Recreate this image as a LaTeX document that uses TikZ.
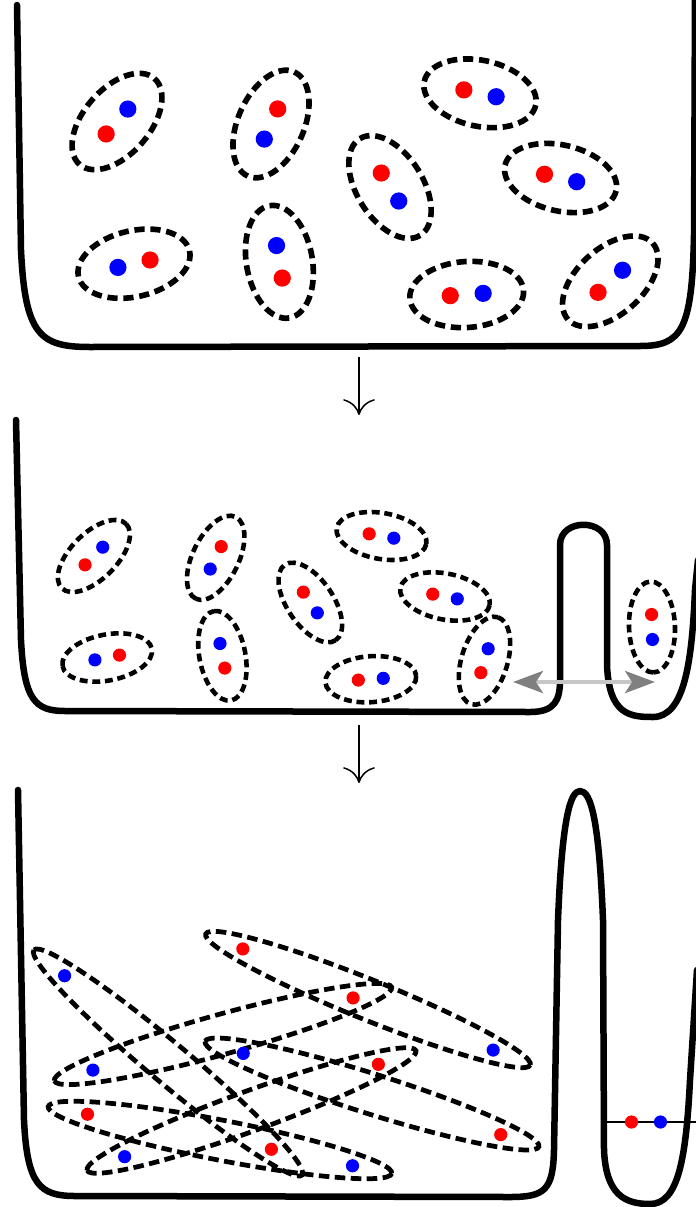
\documentclass[tikz,border=0pt]{standalone}
\usetikzlibrary{arrows.meta}
\tikzset{
  wall/.style={line width=3.7pt, line join=round, line cap=round},
  pairbig/.style={line width=3.2pt, dash pattern=on 5.8pt off 3.3pt},
  pairsmall/.style={line width=2.6pt, dash pattern=on 4.5pt off 2.7pt},
  pairlong/.style={line width=2.7pt, dash pattern=on 6pt off 3.1pt},
  reddot/.style={circle, fill=red, inner sep=0pt, minimum size=#1},
  bluedot/.style={circle, fill=blue, inner sep=0pt, minimum size=#1},
  flow/.style={line width=0.85pt, -{Computer Modern Rightarrow[length=9pt,width=18pt]}},
  hop/.style={draw=gray!45, line width=2.7pt,
    {Stealth[length=17pt,width=12.5pt,inset=4pt,color=gray]}-{Stealth[length=17pt,width=12.5pt,inset=4pt,color=gray]}},
  level/.style={line width=0.75pt}
}
\begin{document}
\begin{tikzpicture}[x=0.02cm, y=0.02cm, yscale=-1]
  \useasboundingbox (0,0) rectangle (696,1207);
  % first box: bound pairs
  \draw[wall] (17,5) -- (21,250) .. controls (25,335) and (40,347) .. (90,347)
    -- (640,346) .. controls (682,346) and (692,330) .. (694,235) -- (695,-5);
  \foreach \cx/\cy/\ang [count=\i] in {117/121.5/-49, 271/124/114, 480/93.3/12,
      390/187/58, 560.6/178/13, 134/263.7/167, 279.4/261.8/-100,
      466.7/294.5/-4, 610.3/281.3/-42}{
    \begin{scope}[shift={(\cx,\cy)}, rotate=\ang]
      \draw[pairbig] (0,0) ellipse (57 and 33);
      \node[reddot=9.8pt] (a\i r) at (-16.5,0) {};
      \node[bluedot=9.8pt] (a\i b) at (16.5,0) {};
    \end{scope}
  }
  \coordinate (down1s) at (359,357);
  \coordinate (down1e) at (359,415);
  \draw[flow] (down1s) -- (down1e);
  % second box: a side well
  \draw[wall] (16,420) -- (21,640) .. controls (24,700) and (35,711) .. (65,711)
    -- (530,712) .. controls (555,712) and (560,700) .. (560,680) -- (560,545)
    .. controls (560,518) and (607,518) .. (607,545) -- (607,665)
    .. controls (609,715) and (630,717) .. (653,717)
    .. controls (685,717) and (692,660) .. (695,590) -- (698,560);
  \foreach \cx/\cy/\ang [count=\i] in {93.9/556/-45, 215.7/557.8/116, 381.5/536/10,
      310.3/602.5/56, 445/596.5/11, 107.2/657.5/169, 222.4/655.8/-101,
      370.8/679.2/-4, 484.5/660.7/-73, 652/627/88}{
    \begin{scope}[shift={(\cx,\cy)}, rotate=\ang]
      \draw[pairsmall] (0,0) ellipse (45.5 and 23);
      \node[reddot=7.5pt] (b\i r) at (-12.5,0) {};
      \node[bluedot=7.5pt] (b\i b) at (12.5,0) {};
    \end{scope}
  }
  \coordinate (hopL) at (513,682);
  \coordinate (hopR) at (655,682);
  \draw[hop] (hopL) -- (hopR);
  \coordinate (down2s) at (359,725);
  \coordinate (down2e) at (359,783);
  \draw[flow] (down2s) -- (down2e);
  % third box: stretched pairs
  \draw[wall] (18,790) -- (24,1120) .. controls (27,1185) and (40,1196) .. (75,1196)
    -- (510,1197) .. controls (545,1197) and (553,1190) .. (554,1150) -- (558,920)
    .. controls (562,820) and (570,791) .. (580,791)
    .. controls (591,791) and (599,820) .. (603,920) -- (604,1150)
    .. controls (606,1195) and (625,1204) .. (650,1204)
    .. controls (678,1204) and (686,1160) .. (690,1080) -- (697,970);
  \foreach \cx/\cy/\ang [count=\i] in {168/1062.5/220, 368/999.5/22, 223/1034/164.5,
      372/1094/197.5, 251.5/1110.5/160, 220/1140/11}{
    \begin{scope}[shift={(\cx,\cy)}, rotate=\ang]
      \draw[pairlong] (0,0) ellipse (175 and 20);
      \node[reddot=7.5pt] (c\i r) at (-135,0) {};
      \node[bluedot=7.5pt] (c\i b) at (135,0) {};
    \end{scope}
  }
  \coordinate (levL) at (607,1122);
  \coordinate (levR) at (696,1122);
  \draw[level] (levL) -- (levR);
  \node[reddot=7.5pt] (wr) at (631.5,1122) {};
  \node[bluedot=7.5pt] (wb) at (660.5,1122) {};
\end{tikzpicture}
\end{document}
